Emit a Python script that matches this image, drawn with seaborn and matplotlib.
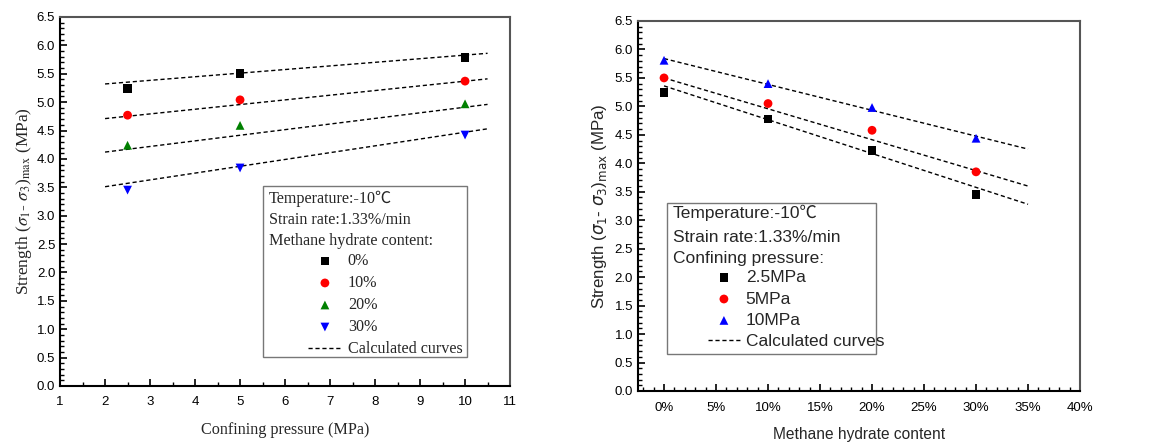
import matplotlib
matplotlib.use("Agg")
import matplotlib.pyplot as plt
from matplotlib.patches import Rectangle
from matplotlib.ticker import MultipleLocator, PercentFormatter
import seaborn as sns
import pandas as pd

# ---------------- data ----------------
# left panel: strength vs confining pressure
pressure = [2.5, 5, 10]
content_labels = ["0%", "10%", "20%", "30%"]
strength_0 = [5.24, 5.50, 5.78]
strength_10 = [4.77, 5.04, 5.37]
strength_20 = [4.24, 4.59, 4.97]
strength_30 = [3.45, 3.84, 4.42]
fit_pressure = [2.0, 10.5]
fit_0 = [5.32, 5.86]
fit_10 = [4.71, 5.41]
fit_20 = [4.12, 4.96]
fit_30 = [3.51, 4.53]

# right panel: strength vs methane hydrate content (%)
content = [0, 10, 20, 30]
pressure_labels = ["2.5MPa", "5MPa", "10MPa"]
strength_p25 = [5.25, 4.78, 4.23, 3.45]
strength_p5 = [5.50, 5.05, 4.58, 3.85]
strength_p10 = [5.81, 5.40, 4.98, 4.44]
fit_content = [0, 35]
fit_p25 = [5.36, 3.28]
fit_p5 = [5.50, 3.60]
fit_p10 = [5.84, 4.25]

# ---------------- style ----------------
sns.set_style("ticks")
plt.rcParams["font.family"] = ["Liberation Sans", "Noto Sans CJK SC", "DejaVu Sans"]
SERIF = ["Liberation Serif", "Noto Sans CJK SC", "DejaVu Sans"]
SANS = ["Liberation Sans", "Noto Sans CJK SC", "DejaVu Sans"]

fig = plt.figure(figsize=(11.55, 4.43), dpi=100)
axL = fig.add_axes([0.052, 0.1287, 0.3896, 0.833])
axR = fig.add_axes([0.5524, 0.1174, 0.3827, 0.8352])

DASH = (0, (3, 2))


def style_axes(ax):
    for s in ["left", "bottom"]:
        ax.spines[s].set_color("black")
        ax.spines[s].set_linewidth(1.5)
    for s in ["top", "right"]:
        ax.spines[s].set_color("#555555")
        ax.spines[s].set_linewidth(1.5)
    ax.tick_params(which="both", direction="in", top=False, right=False,
                   colors="black")
    ax.tick_params(which="major", length=5, width=1.2)
    ax.tick_params(which="minor", length=3, width=1.0)
    for lab in ax.get_xticklabels() + ax.get_yticklabels():
        lab.set_family(SANS)
        lab.set_fontsize(9.5)


# ---------------- left panel ----------------
left_series = [strength_0, strength_10, strength_20, strength_30]
left_fits = [fit_0, fit_10, fit_20, fit_30]
left_markers = ["s", "o", "^", "v"]
left_colors = ["black", "red", "green", "blue"]
handlesL = []
for lab, ys, fy, m, c in zip(content_labels, left_series, left_fits, left_markers, left_colors):
    line_df = pd.DataFrame({"x": fit_pressure, "y": fy})
    sns.lineplot(data=line_df, x="x", y="y", ax=axL, color="black",
                 linestyle=DASH, linewidth=1.0, legend=False)
    df = pd.DataFrame({"x": pressure, "y": ys})
    sns.scatterplot(data=df, x="x", y="y", ax=axL, marker=m, color=c,
                    s=40, edgecolor="none", legend=False, zorder=3)
    handlesL.append(axL.collections[-1])
fit_handle_L = axL.lines[0]

axL.set_xlim(1, 11)
axL.set_ylim(0, 6.5)
axL.xaxis.set_major_locator(MultipleLocator(1))
axL.xaxis.set_minor_locator(MultipleLocator(0.5))
axL.yaxis.set_major_locator(MultipleLocator(0.5))
axL.yaxis.set_minor_locator(MultipleLocator(0.1))
axL.yaxis.set_major_formatter(plt.FormatStrFormatter("%.1f"))
axL.tick_params(axis="x", pad=7)
axL.tick_params(axis="y", pad=3.5)
axL.set_xlabel("Confining pressure (MPa)", family=SERIF, fontsize=11.6, labelpad=10)
axL.set_ylabel(r"Strength ($\sigma_\mathrm{1}$- $\sigma_\mathrm{3}$)$_\mathrm{max}$ (MPa)",
               family=SERIF, fontsize=12.5, math_fontfamily="stix", labelpad=2)
style_axes(axL)

axL.add_patch(Rectangle((0.451, 0.0786), 0.453, 0.463, transform=axL.transAxes,
                        fill=False, edgecolor="#777777", linewidth=1.0, zorder=4))
for txt, yy in zip(["Temperature:-10℃", "Strain rate:1.33%/min", "Methane hydrate content:"],
                   [0.507, 0.450, 0.393]):
    axL.text(0.464, yy, txt, transform=axL.transAxes, family=SERIF, fontsize=11.6,
             va="center", ha="left")
legL = axL.legend(handlesL + [fit_handle_L], content_labels + ["Calculated curves"],
                  loc="upper left", bbox_to_anchor=(0.551, 0.360), frameon=False,
                  borderpad=0, borderaxespad=0, handlelength=2.1, handletextpad=0.37,
                  labelspacing=0.375, prop={"family": SERIF, "size": 11.6})

# ---------------- right panel ----------------
right_series = [strength_p25, strength_p5, strength_p10]
right_fits = [fit_p25, fit_p5, fit_p10]
right_markers = ["s", "o", "^"]
right_colors = ["black", "red", "blue"]
handlesR = []
for lab, ys, fy, m, c in zip(pressure_labels, right_series, right_fits, right_markers, right_colors):
    line_df = pd.DataFrame({"x": fit_content, "y": fy})
    sns.lineplot(data=line_df, x="x", y="y", ax=axR, color="black",
                 linestyle=DASH, linewidth=1.0, legend=False)
    df = pd.DataFrame({"x": content, "y": ys})
    sns.scatterplot(data=df, x="x", y="y", ax=axR, marker=m, color=c,
                    s=40, edgecolor="none", legend=False, zorder=3)
    handlesR.append(axR.collections[-1])
fit_handle_R = axR.lines[0]

axR.set_xlim(-2.5, 40)
axR.set_ylim(0, 6.5)
axR.xaxis.set_major_locator(MultipleLocator(5))
axR.xaxis.set_minor_locator(MultipleLocator(1))
axR.xaxis.set_major_formatter(PercentFormatter(decimals=0))
axR.yaxis.set_major_locator(MultipleLocator(0.5))
axR.yaxis.set_minor_locator(MultipleLocator(0.1))
axR.yaxis.set_major_formatter(plt.FormatStrFormatter("%.1f"))
axR.tick_params(axis="x", pad=8)
axR.tick_params(axis="y", pad=3.5)
axR.set_xlabel("Methane hydrate content", family=SANS, fontsize=11.2, labelpad=9)
axR.set_ylabel(r"Strength ($\sigma_\mathrm{1}$- $\sigma_\mathrm{3}$)$_\mathrm{max}$ (MPa)",
               family=SANS, fontsize=12.2, math_fontfamily="dejavusans", labelpad=4)
style_axes(axR)

axR.add_patch(Rectangle((0.0656, 0.10), 0.4724, 0.408, transform=axR.transAxes,
                        fill=False, edgecolor="#777777", linewidth=1.0, zorder=4))
for txt, yy in zip(["Temperature:-10℃", "Strain rate:1.33%/min", "Confining pressure:"],
                   [0.481, 0.416, 0.359]):
    axR.text(0.079, yy, txt, transform=axR.transAxes, family=SANS, fontsize=12.5,
             va="center", ha="left")
legR = axR.legend(handlesR + [fit_handle_R], pressure_labels + ["Calculated curves"],
                  loc="upper left", bbox_to_anchor=(0.158, 0.327), frameon=False,
                  borderpad=0, borderaxespad=0, handlelength=1.85, handletextpad=0.33,
                  labelspacing=0.36, prop={"family": SANS, "size": 12.5})

fig.savefig("out.png", dpi=100)
